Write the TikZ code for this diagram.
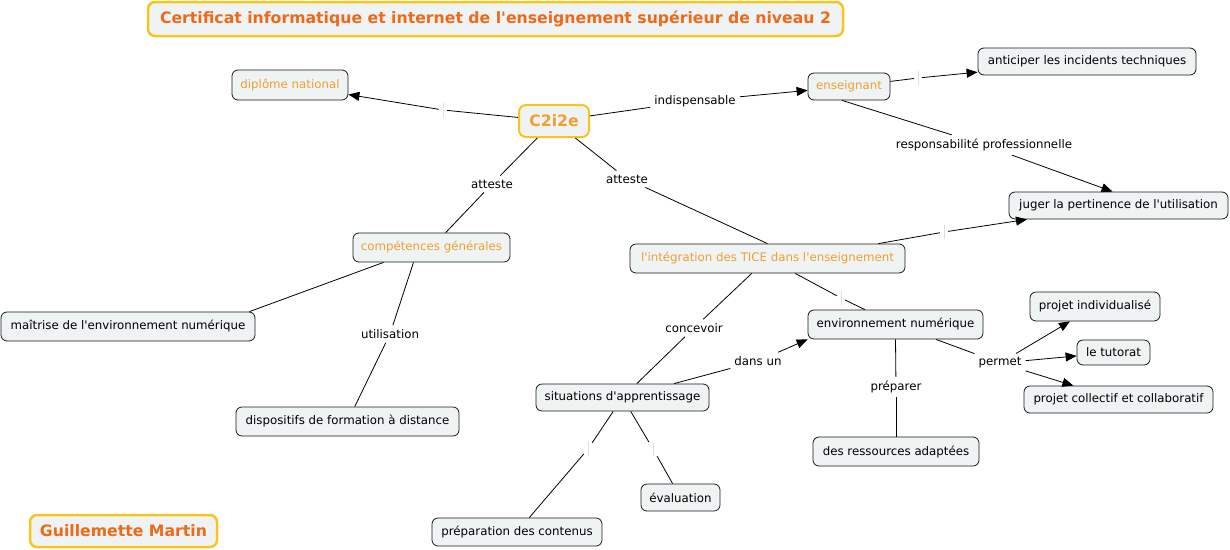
\documentclass[tikz,border=0pt]{standalone}
\usepackage{fontspec}
\setmainfont{DejaVu Sans}
\usetikzlibrary{arrows.meta,calc}
\definecolor{boxfill}{HTML}{EFF3F3}
\definecolor{concor}{HTML}{F0A030}
\definecolor{titleor}{HTML}{EE6A1A}
\definecolor{gold}{HTML}{F7C51E}
\newcommand\apos{\textquotesingle}
\begin{document}
\begin{tikzpicture}[x=1pt,y=-1pt,
  font=\fontsize{11.8}{14}\selectfont,
  concept/.style={draw=black!90, line width=0.8pt, rounded corners=6pt, fill=boxfill, inner sep=0pt, text=concor},
  plain/.style={concept, text=black},
  mainbox/.style={draw=gold, line width=2.5pt, rounded corners=7pt, fill=boxfill, inner sep=0pt, text=titleor, font=\fontsize{15.7}{18}\selectfont\bfseries},
  lab/.style={inner xsep=4pt, inner ysep=4pt},
  gap/.style={inner sep=0pt, minimum width=8pt, minimum height=14pt},
  link/.style={draw=black, line width=0.8pt},
  arr/.style={link, -{Triangle[length=11pt,width=9pt]}},
  tick/.style={draw=gray!25, line width=0.6pt}]
\useasboundingbox (0,0) rectangle (1230,549);

% nodes
\node[mainbox, minimum width=695pt, minimum height=34pt] (title) at (495.5,19) {Certificat informatique et internet de l\apos enseignement supérieur de niveau 2};
\node[mainbox, text=concor, line width=2pt, minimum width=70pt, minimum height=32pt] (c2) at (554,121) {C2i2e};
\node[mainbox, minimum width=187pt, minimum height=32pt] (gm) at (123.5,531) {Guillemette Martin};

\node[concept, minimum width=116pt, minimum height=30pt] (dip) at (290,85) {diplôme national};
\node[concept, minimum width=82pt, minimum height=27pt] (ens) at (849,86.5) {enseignant};
\node[plain, minimum width=218pt, minimum height=27pt] (ant) at (1087,61.5) {anticiper les incidents techniques};
\node[plain, minimum width=219pt, minimum height=27pt] (jug) at (1118.5,205.5) {juger la pertinence de l\apos utilisation};
\node[concept, minimum width=157pt, minimum height=29pt] (comp) at (431.5,247.5) {compétences générales};
\node[concept, minimum width=275pt, minimum height=29pt] (integ) at (767.5,258.5) {l\apos intégration des TICE dans l\apos enseignement};
\node[plain, minimum width=254pt, minimum height=29pt] (mait) at (128,326.5) {maîtrise de l\apos environnement numérique};
\node[plain, minimum width=223pt, minimum height=29pt] (disp) at (347.5,421.5) {dispositifs de formation à distance};
\node[plain, minimum width=175pt, minimum height=29pt] (env) at (895.5,324.5) {environnement numérique};
\node[plain, minimum width=130pt, minimum height=29pt] (pind) at (1095,306.5) {projet individualisé};
\node[plain, minimum width=73pt, minimum height=25pt] (tut) at (1113.5,352.5) {le tutorat};
\node[plain, minimum width=189pt, minimum height=27pt] (pcol) at (1118.5,399.5) {projet collectif et collaboratif};
\node[plain, minimum width=173pt, minimum height=27pt] (sit) at (622.5,397.5) {situations d\apos apprentissage};
\node[plain, minimum width=166pt, minimum height=29pt] (res) at (896,451.5) {des ressources adaptées};
\node[plain, minimum width=79pt, minimum height=27pt] (eval) at (680.5,497.5) {évaluation};
\node[plain, minimum width=170pt, minimum height=28pt] (prep) at (517,532) {préparation des contenus};

% link labels
\node[lab] (lIndisp) at (695,101) {indispensable};
\node[lab] (lResp) at (984,145) {responsabilité professionnelle};
\node[lab] (lAtt1) at (492,184) {atteste};
\node[lab] (lAtt2) at (627,179) {atteste};
\node[lab] (lUtil) at (390,334) {utilisation};
\node[lab] (lConc) at (694,328) {concevoir};
\node[lab] (lDans) at (758,361) {dans un};
\node[lab] (lPrep) at (896,387) {préparer};
\node[lab] (lPerm) at (1000,363) {permet};

% empty link labels (gaps)
\node[gap] (g1) at (443,110) {};
\node[gap] (g2) at (918,78) {};
\node[gap] (g3) at (944,232) {};
\node[gap] (g4) at (841,298) {};
\node[gap] (g5) at (588,449) {};
\node[gap] (g6) at (653,449) {};
\foreach \g in {g1,g2,g3,g4,g5,g6} \draw[tick] (\g.north) -- (\g.south);

% connectors
\draw[link] (c2) -- (g1);
\draw[arr] (g1) -- (dip);
\draw[link] (c2) -- (lIndisp);
\draw[arr] (lIndisp) -- (ens);
\draw[link] (ens) -- (g2);
\draw[arr] (g2) -- (ant);
\draw[link] ($(ens.south)+(-7,0)$) -- (lResp);
\draw[arr] (lResp) -- ($(jug.north)+(-6,0)$);
\draw[link] ($(integ.north east)+(-27,0)$) -- (g3);
\draw[arr] (g3) -- (jug);
\draw[link] (c2) -- (lAtt1);
\draw[link] (lAtt1) -- (comp);
\draw[link] (c2) -- (lAtt2);
\draw[link] (lAtt2) -- (integ.north);
\draw[link] ($(comp.south)+(-48,0)$) -- ($(mait.north east)+(-6,0)$);
\draw[link] ($(comp.south)+(-18,0)$) -- (lUtil);
\draw[link] (lUtil) -- (disp);
\draw[link] (integ) -- (lConc);
\draw[link] (lConc) -- (sit);
\draw[link] (integ) -- (g4);
\draw[link] (g4) -- (env);
\draw[link] (sit) -- (lDans);
\draw[arr] (lDans) -- (env.south west);
\draw[link] (env.south) -- (lPrep);
\draw[link] (lPrep) -- (res.north);
\draw[link] (env) -- (lPerm);
\draw[arr] (lPerm) -- (pind);
\draw[arr] (lPerm) -- (tut);
\draw[arr] (lPerm) -- (pcol);
\draw[link] (sit) -- (g5);
\draw[link] (g5) -- (prep);
\draw[link] (sit) -- (g6);
\draw[link] (g6) -- (eval);
\end{tikzpicture}
\end{document}
